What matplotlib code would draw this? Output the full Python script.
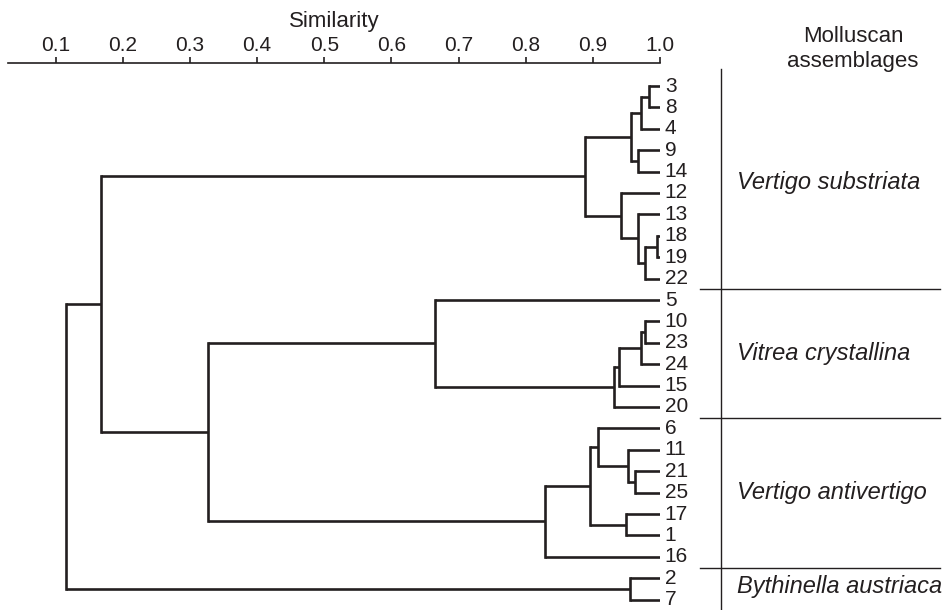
import matplotlib
matplotlib.use("Agg")
import matplotlib.pyplot as plt

plt.rcParams['font.family'] = ['Liberation Sans', 'DejaVu Sans']

# ---- data ----
leaves = ['3', '8', '4', '9', '14', '12', '13', '18', '19', '22', '5',
          '10', '23', '24', '15', '20', '6', '11', '21', '25', '17', '1',
          '16', '2', '7']

# merges: name -> (child_a, child_b, similarity)
merge_names = ['A', 'B', 'C', 'D', 'E', 'F', 'G', 'H', 'I', 'J', 'K', 'L',
               'M', 'N', 'O', 'P', 'Q', 'R', 'S', 'T', 'U', 'V', 'W', 'X']
merge_a = ['3', 'A', '9', 'B', '18', 'E', '13', '12', 'D', '10', 'J', 'K',
           'L', '5', '21', '11', '6', '17', 'Q', 'S', 'N', 'I', '2', 'V']
merge_b = ['8', '4', '14', 'C', '19', '22', 'F', 'G', 'H', '23', '24', '15',
           '20', 'M', '25', 'O', 'P', '1', 'R', '16', 'T', 'U', '7', 'W']
merge_sim = [0.984, 0.972, 0.967, 0.957, 0.995, 0.977, 0.967, 0.942, 0.888,
             0.977, 0.972, 0.939, 0.932, 0.665, 0.963, 0.953, 0.908, 0.950,
             0.896, 0.829, 0.327, 0.167, 0.955, 0.116]

ticks = [0.1, 0.2, 0.3, 0.4, 0.5, 0.6, 0.7, 0.8, 0.9, 1.0]
tick_labels = ['0.1', '0.2', '0.3', '0.4', '0.5', '0.6', '0.7', '0.8', '0.9', '1.0']

groups = ['Vertigo substriata', 'Vitrea crystallina', 'Vertigo antivertigo',
          'Bythinella austriaca']
group_sizes = [10, 6, 7, 2]

# ---- figure ----
W, H = 946, 610
fig = plt.figure(figsize=(W / 100, H / 100), dpi=100)
left_px, right_px, top_px, bot_px = 8, 660, 63, 610
ax = fig.add_axes([left_px / W, 1 - bot_px / H, (right_px - left_px) / W,
                   (bot_px - top_px) / H])

px_per_unit = (660 - 55.7) / 0.9
ax.set_xlim(0.1 - (55.7 - left_px) / px_per_unit, 1.0)
leaf_sp = 21.4
leaf0 = 86
ax.set_ylim((bot_px - leaf0) / leaf_sp, (top_px - leaf0) / leaf_sp)

col = '#231f20'
lw = 1.9

# positions
ypos = {lab: i for i, lab in enumerate(leaves)}
hpos = {lab: 1.0 for lab in leaves}
for n, a, b, s in zip(merge_names, merge_a, merge_b, merge_sim):
    ya, yb = ypos[a], ypos[b]
    ax.plot([s, s], [ya, yb], color=col, lw=lw, solid_capstyle='projecting',
            solid_joinstyle='miter')
    ax.plot([s, hpos[a]], [ya, ya], color=col, lw=lw, solid_capstyle='butt')
    ax.plot([s, hpos[b]], [yb, yb], color=col, lw=lw, solid_capstyle='butt')
    ypos[n] = (ya + yb) / 2
    hpos[n] = s

for i, lab in enumerate(leaves):
    ax.annotate(lab, (1.0, i), xytext=(3.5, 0), textcoords='offset points',
                ha='left', va='center', fontsize=15, color=col,
                annotation_clip=False)

# axis
for sp in ['left', 'right', 'bottom']:
    ax.spines[sp].set_visible(False)
ax.spines['top'].set_linewidth(1.2)
ax.spines['top'].set_color(col)
ax.xaxis.tick_top()
ax.xaxis.set_label_position('top')
ax.set_xticks(ticks)
ax.set_xticklabels(tick_labels)
ax.tick_params(axis='x', direction='out', length=4, width=1.2, color=col,
               labelsize=15, pad=1.5, labelcolor=col)
ax.set_yticks([])
ax.set_xlabel('Similarity', fontsize=16, labelpad=7, color=col)

# right annotation column
xv = 1.0 + (721 - 660) / px_per_unit
xs0 = 1.0 + (700 - 660) / px_per_unit
xs1 = 1.0 + (940 - 660) / px_per_unit
xt = 1.0 + (737 - 660) / px_per_unit
xc = 1.0 + (853 - 660) / px_per_unit
ytop = (69 - leaf0) / leaf_sp
ybot = (bot_px - leaf0) / leaf_sp
ax.plot([xv, xv], [ytop, ybot], color=col, lw=1.0, clip_on=False)
start = 0
for gi, (g, n) in enumerate(zip(groups, group_sizes)):
    end = start + n - 1
    if gi < len(groups) - 1:
        yb = end + 0.5
        ax.plot([xs0, xs1], [yb, yb], color=col, lw=1.0, clip_on=False)
    ymid = (start + end) / 2
    if gi == len(groups) - 1:
        ymid = (start + end) / 2 - 0.1
    ax.text(xt, ymid, g, fontsize=17, style='italic', ha='left', va='center',
            color=col, clip_on=False)
    start = end + 1

ax.text(xc, (37 - leaf0) / leaf_sp, 'Molluscan', fontsize=16, ha='center',
        va='center', color=col, clip_on=False)
ax.text(xc, (61 - leaf0) / leaf_sp, 'assemblages', fontsize=16, ha='center',
        va='center', color=col, clip_on=False)

fig.savefig('out.png', dpi=100)
